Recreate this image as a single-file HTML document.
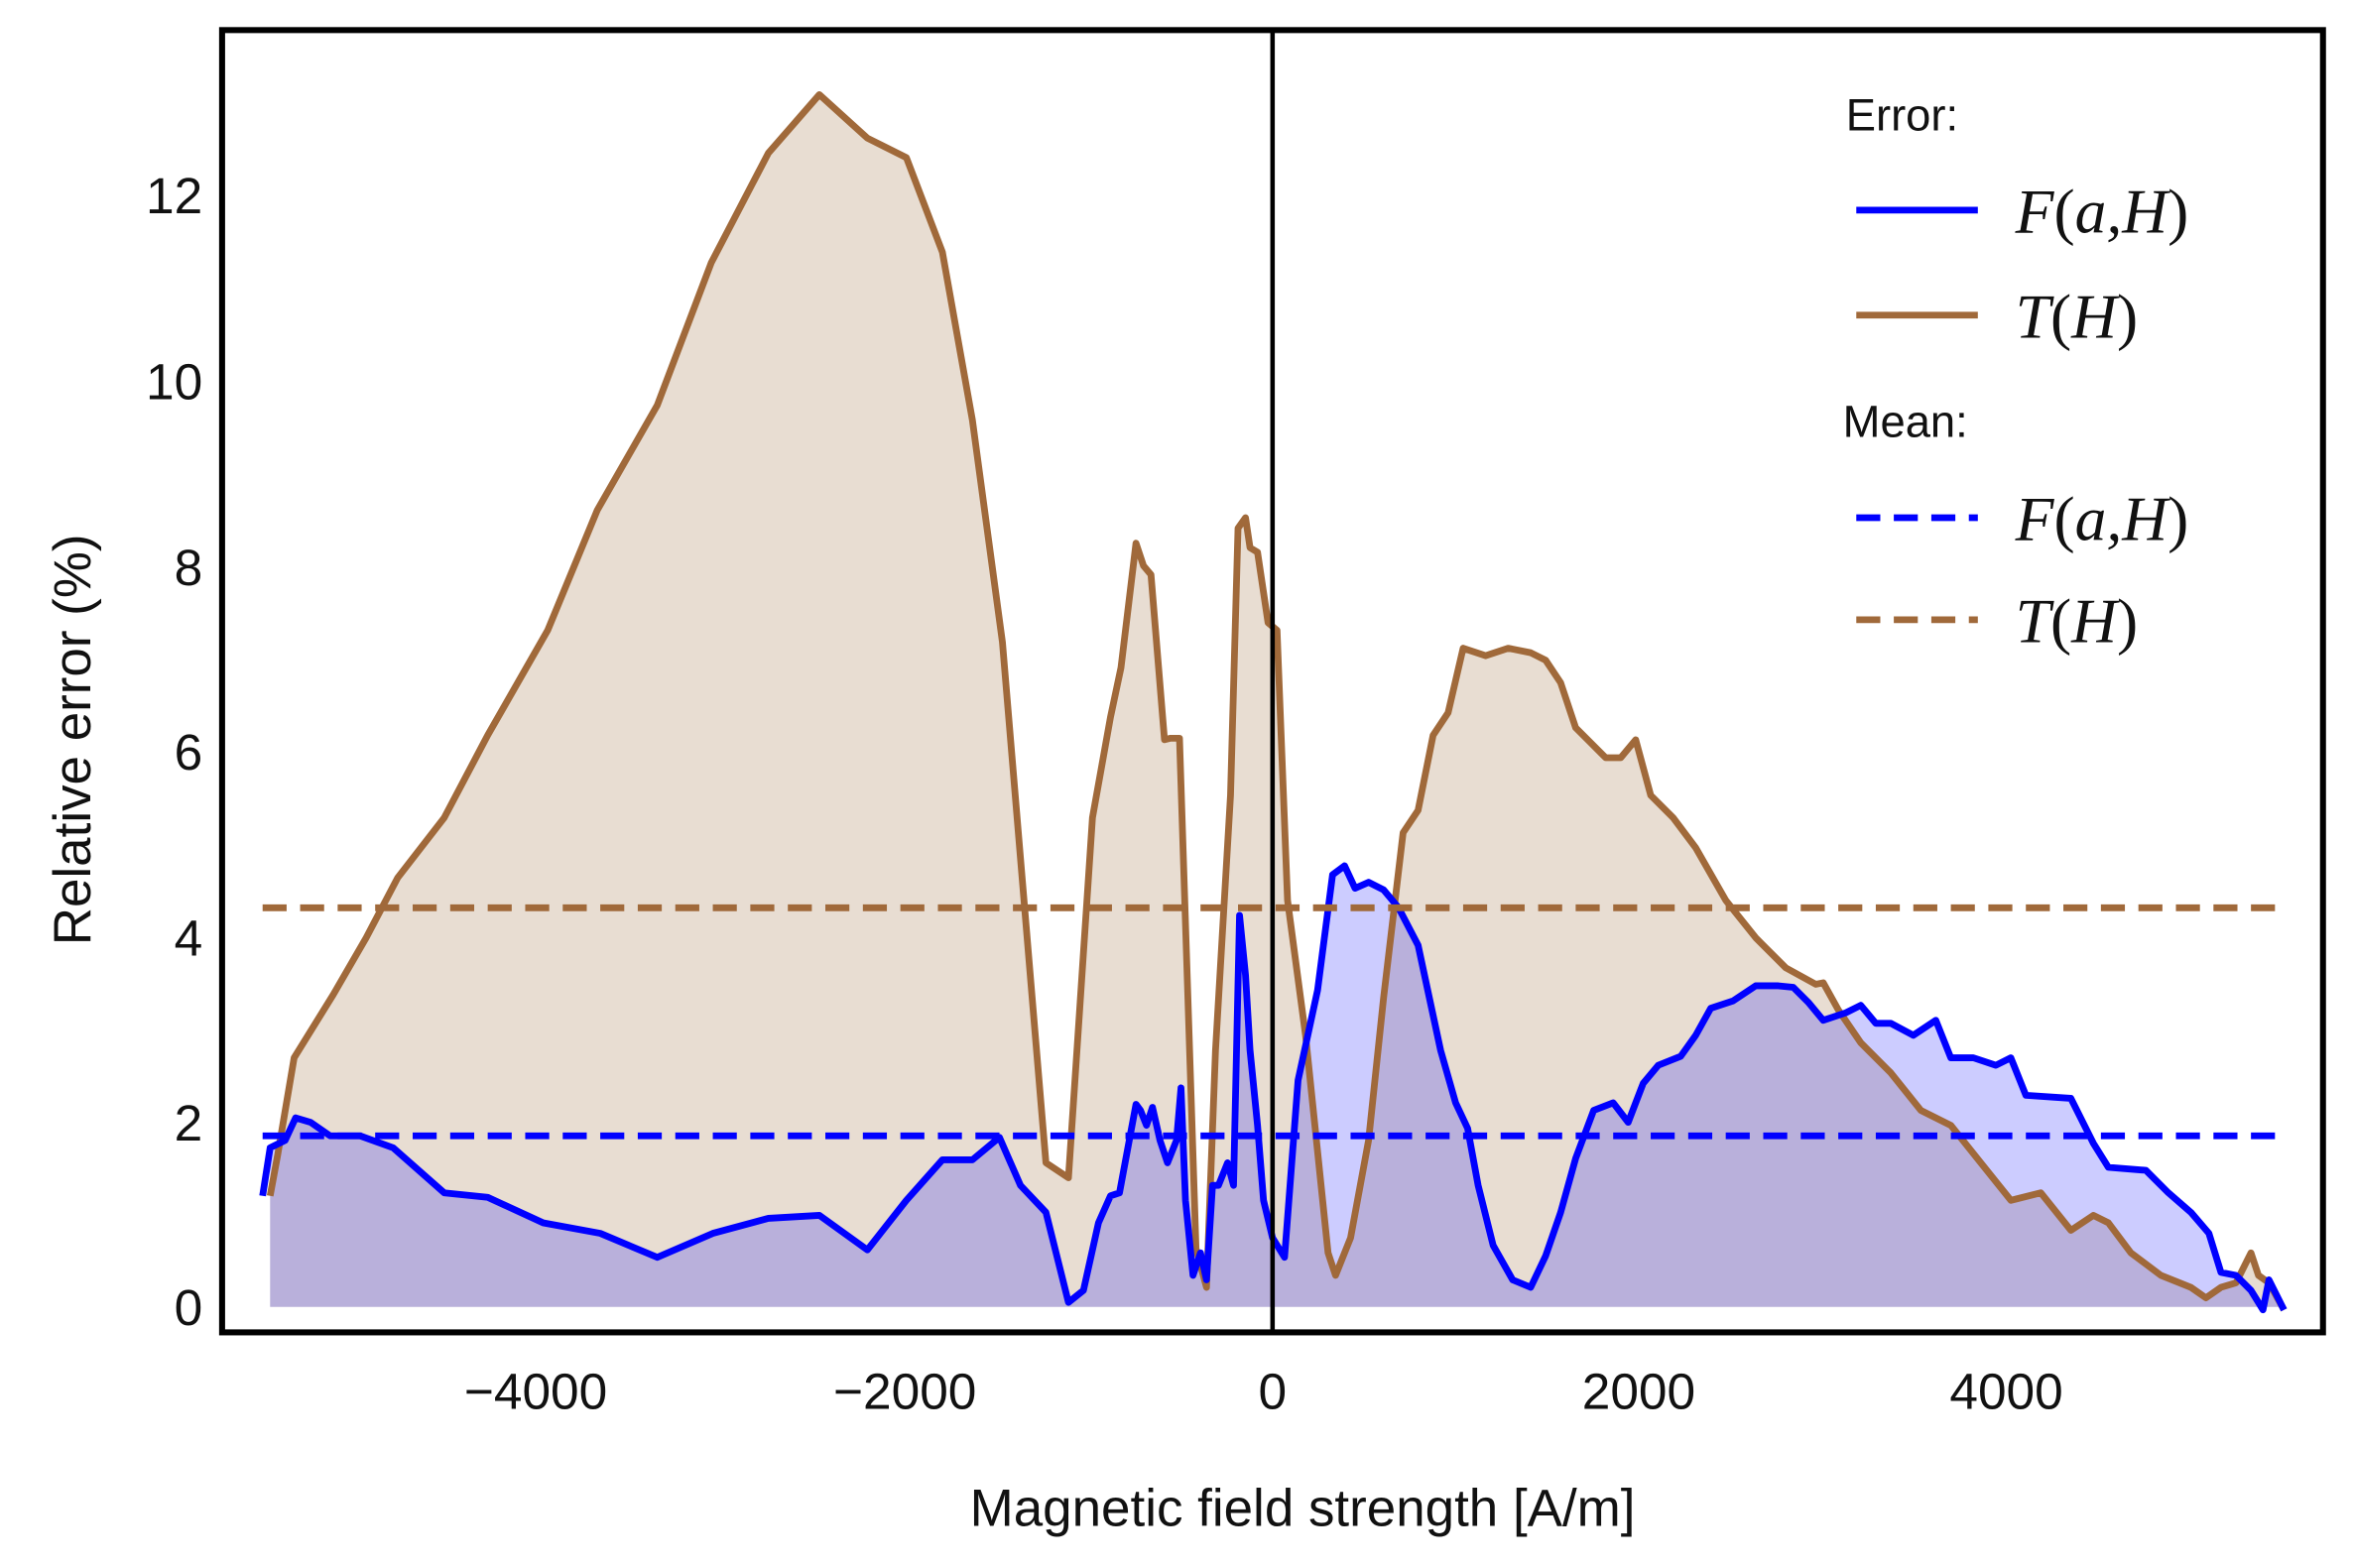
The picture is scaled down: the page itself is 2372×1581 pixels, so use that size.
<!DOCTYPE html>
<html><head><meta charset="utf-8"><style>html,body{margin:0;padding:0;background:#fff}svg{display:block}</style></head><body>
<svg width="2372" height="1581" viewBox="0 0 1568 1045" xmlns="http://www.w3.org/2000/svg">
<rect width="1568" height="1045" fill="#fff"/>
<polygon fill="#e8ddd2" points="180,871 180,797 185,770 196,705 222,663 244,625 265,585 296,545 325,490 365,420 398,340 438,270 474,175 512,102 546,63 578,92 604,105 628,168 648,280 668,428 697,775 712,785 728,545 740,478 747,445 757,362 762,377 767,383 776,493 780,492 786,492 797,832 804,858 810,700 820,530 825,352 830,345 833,365 838,368 845,415 851,420 858,600 870,690 885,835 890,850 900,825 912,760 922,665 935,555 945,540 955,490 965,475 975,432 990,437 1005,432 1020,435 1030,440 1040,455 1050,485 1060,495 1070,505 1080,505 1090,493 1100,530 1115,545 1130,565 1150,600 1170,625 1190,645 1210,656 1215,655 1225,673 1240,695 1260,715 1280,740 1300,750 1320,775 1340,800 1360,795 1380,820 1395,810 1405,815 1420,835 1440,850 1460,858 1470,865 1480,858 1490,855 1500,835 1505,850 1512,855 1522,873 1522,871"/>
<polygon fill="#0000ff" fill-opacity="0.2" points="180,871 180,765 190,760 197,745 207,748 220,757 240,757 262,765 296,795 325,798 362,815 400,822 438,838 475,822 512,812 546,810 578,833 604,800 628,773 648,773 666,758 680,790 697,808 712,868 722,860 732,815 740,797 746,795 757,736 760,740 764,750 768,738 773,760 778,775 784,760 787,725 790,800 795,850 800,835 804,853 808,790 812,790 818,775 822,790 826,610 830,650 833,700 838,750 842,800 848,825 856,838 865,720 878,660 888,583 896,577 903,592 912,588 922,593 932,605 945,630 960,700 970,735 978,752 985,790 995,830 1008,853 1020,858 1030,837 1040,808 1050,772 1062,740 1075,735 1085,748 1095,722 1105,710 1120,704 1130,690 1140,672 1155,667 1170,657 1185,657 1195,658 1205,668 1215,680 1230,675 1240,670 1250,682 1260,682 1275,690 1290,680 1300,705 1315,705 1330,710 1340,705 1350,730 1380,732 1395,762 1405,778 1430,780 1445,795 1460,808 1472,822 1480,848 1490,850 1500,860 1508,873 1512,853 1522,873 1522,871"/>
<polyline fill="none" stroke="#a0693a" stroke-width="4.5" stroke-linejoin="round" points="180,797 185,770 196,705 222,663 244,625 265,585 296,545 325,490 365,420 398,340 438,270 474,175 512,102 546,63 578,92 604,105 628,168 648,280 668,428 697,775 712,785 728,545 740,478 747,445 757,362 762,377 767,383 776,493 780,492 786,492 797,832 804,858 810,700 820,530 825,352 830,345 833,365 838,368 845,415 851,420 858,600 870,690 885,835 890,850 900,825 912,760 922,665 935,555 945,540 955,490 965,475 975,432 990,437 1005,432 1020,435 1030,440 1040,455 1050,485 1060,495 1070,505 1080,505 1090,493 1100,530 1115,545 1130,565 1150,600 1170,625 1190,645 1210,656 1215,655 1225,673 1240,695 1260,715 1280,740 1300,750 1320,775 1340,800 1360,795 1380,820 1395,810 1405,815 1420,835 1440,850 1460,858 1470,865 1480,858 1490,855 1500,835 1505,850 1512,855 1522,873"/>
<polyline fill="none" stroke="#0000ff" stroke-width="4.5" stroke-linejoin="round" points="175,797 180,765 190,760 197,745 207,748 220,757 240,757 262,765 296,795 325,798 362,815 400,822 438,838 475,822 512,812 546,810 578,833 604,800 628,773 648,773 666,758 680,790 697,808 712,868 722,860 732,815 740,797 746,795 757,736 760,740 764,750 768,738 773,760 778,775 784,760 787,725 790,800 795,850 800,835 804,853 808,790 812,790 818,775 822,790 826,610 830,650 833,700 838,750 842,800 848,825 856,838 865,720 878,660 888,583 896,577 903,592 912,588 922,593 932,605 945,630 960,700 970,735 978,752 985,790 995,830 1008,853 1020,858 1030,837 1040,808 1050,772 1062,740 1075,735 1085,748 1095,722 1105,710 1120,704 1130,690 1140,672 1155,667 1170,657 1185,657 1195,658 1205,668 1215,680 1230,675 1240,670 1250,682 1260,682 1275,690 1290,680 1300,705 1315,705 1330,710 1340,705 1350,730 1380,732 1395,762 1405,778 1430,780 1445,795 1460,808 1472,822 1480,848 1490,850 1500,860 1508,873 1512,853 1522,873"/>
<line x1="175" y1="605" x2="1524" y2="605" stroke="#a0693a" stroke-width="4.5" stroke-dasharray="16,9"/>
<line x1="175" y1="757" x2="1524" y2="757" stroke="#0000ff" stroke-width="4.5" stroke-dasharray="16,9"/>
<line x1="848" y1="20" x2="848" y2="888" stroke="#000" stroke-width="3"/>
<rect x="148" y="20" width="1400" height="868" fill="none" stroke="#000" stroke-width="4"/>
<g font-family="Liberation Sans, sans-serif" font-size="34" fill="#111" text-anchor="end">
<text x="135" y="883">0</text><text x="135" y="760">2</text><text x="135" y="637">4</text><text x="135" y="513">6</text><text x="135" y="390">8</text><text x="135" y="266">10</text><text x="135" y="142">12</text>
</g>
<g font-family="Liberation Sans, sans-serif" font-size="34" fill="#111" text-anchor="middle">
<text x="357" y="939">−4000</text><text x="603" y="939">−2000</text><text x="848" y="939">0</text><text x="1092" y="939">2000</text><text x="1337" y="939">4000</text>
<text x="868" y="1017" font-size="35">Magnetic field strength [A/m]</text>
<text transform="translate(60,493) rotate(-90)" font-size="35">Relative error (%)</text>
</g>
<g font-family="Liberation Sans, sans-serif" font-size="30" fill="#111">
<text x="1230" y="87">Error:</text><text x="1228" y="291">Mean:</text>
</g>
<line x1="1237" y1="140" x2="1318" y2="140" stroke="#0000ff" stroke-width="4.5"/>
<line x1="1237" y1="210" x2="1318" y2="210" stroke="#a0693a" stroke-width="4.5"/>
<line x1="1237" y1="345" x2="1318" y2="345" stroke="#0000ff" stroke-width="4.5" stroke-dasharray="16,9"/>
<line x1="1237" y1="413" x2="1318" y2="413" stroke="#a0693a" stroke-width="4.5" stroke-dasharray="16,9"/>
<g font-family="Liberation Serif, serif" font-size="42" font-style="italic" fill="#111">
<text x="1343" y="155">F<tspan font-style="normal">(</tspan>a,H<tspan font-style="normal">)</tspan></text>
<text x="1343" y="225">T<tspan font-style="normal">(</tspan>H<tspan font-style="normal">)</tspan></text>
<text x="1343" y="360">F<tspan font-style="normal">(</tspan>a,H<tspan font-style="normal">)</tspan></text>
<text x="1343" y="428">T<tspan font-style="normal">(</tspan>H<tspan font-style="normal">)</tspan></text>
</g>
</svg>
</body></html>
